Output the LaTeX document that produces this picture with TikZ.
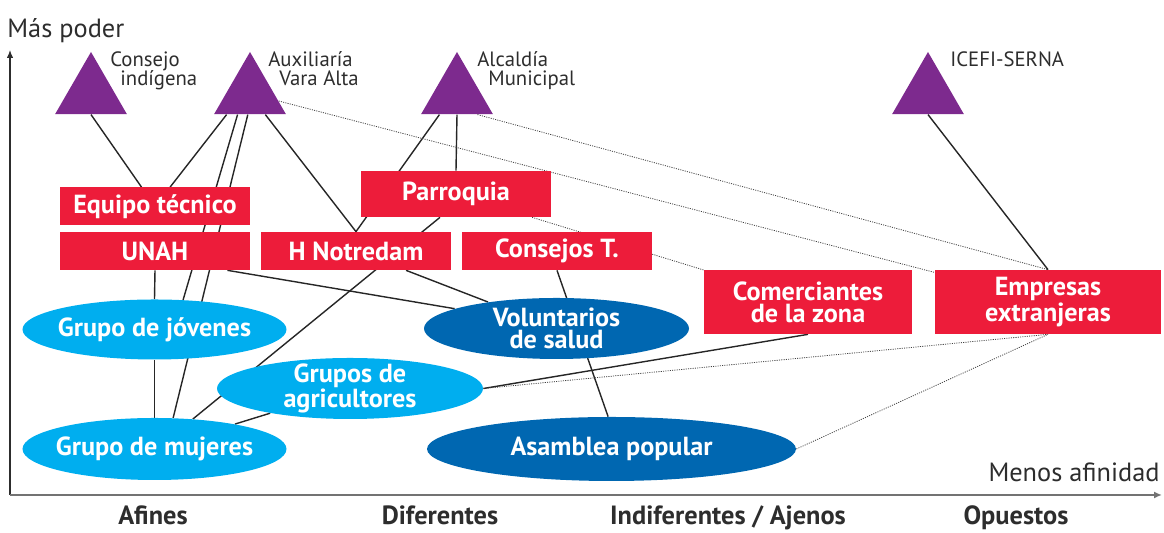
\documentclass[tikz,border=0pt]{standalone}
\usepackage{fontspec}
\setmainfont{PT Sans}
\usetikzlibrary{shapes.geometric, arrows.meta, positioning, calc, backgrounds}
\definecolor{actorpurple}{RGB}{125,42,142}
\definecolor{instred}{RGB}{237,28,58}
\definecolor{grplight}{RGB}{0,174,239}
\definecolor{grpdark}{RGB}{0,103,177}
\definecolor{ink}{RGB}{45,45,45}

\begin{document}
\begin{tikzpicture}[
    actor/.style={regular polygon, regular polygon sides=3, fill=actorpurple, minimum size=1.66cm, inner sep=0pt},
    actorlbl/.style={anchor=north west, inner sep=0pt, align=left, text=ink, font=\fontsize{11.8}{11}\selectfont},
    inst/.style={rectangle, fill=instred, text=white, minimum width=3.8cm, minimum height=0.76cm, inner sep=0pt, align=center, font=\fontsize{14.9}{12.4}\selectfont\bfseries},
    grp/.style={ellipse, fill=grplight, text=white, minimum width=5.28cm, minimum height=1.2cm, inner xsep=-0.6cm, inner ysep=-0.25cm, align=center, font=\fontsize{14.9}{12.4}\selectfont\bfseries},
    link/.style={draw=black!85, line width=0.8pt},
    weak/.style={draw=black!75, line width=0.45pt, dash pattern=on 0.6pt off 0.7pt},
    axislbl/.style={text=ink, inner sep=0pt, font=\fontsize{15}{17}\selectfont},
    catlbl/.style={text=ink, inner sep=0pt, font=\fontsize{15}{17}\selectfont\bfseries}
]
    \useasboundingbox (0,0) rectangle (23.28,10.66);

    % Axes
    \draw[ink, line width=0.7pt, -{Latex[length=1.6mm,width=1.3mm]}] (0.2,0.76) -- (0.2,9.66);
    \draw[black!55, line width=1pt, -{Latex[length=1.6mm,width=1.4mm]}] (0.2,0.76) -- (23.24,0.76);
    \node[axislbl, anchor=base west] (poder) at (0.14,9.9) {Más poder};
    \node[axislbl, anchor=base east] (afinidad) at (23.2,1.02) {Menos afinidad};

    % Categories
    \node[catlbl, anchor=base] (afines) at (3.06,0.16) {Afines};
    \node[catlbl, anchor=base] (diferentes) at (8.8,0.16) {Diferentes};
    \node[catlbl, anchor=base] (ajenos) at (14.56,0.16) {Indiferentes / Ajenos};
    \node[catlbl, anchor=base] (opuestos) at (20.32,0.16) {Opuestos};

    % Actors with most power
    \node[actor] (consejo) at (1.82,8.79) {};
    \node[actor] (aux) at (5.0,8.79) {};
    \node[actor] (alcaldia) at (9.14,8.79) {};
    \node[actor] (icefi) at (18.56,8.79) {};
    \node[actorlbl] (consejo-lbl) at ([xshift=0.38cm]consejo.corner 1) {Consejo\\\hspace*{0.2cm}indígena};
    \node[actorlbl] (aux-lbl) at ([xshift=0.36cm]aux.corner 1) {Auxiliaría\\\hspace*{0.22cm}Vara Alta};
    \node[actorlbl] (alcaldia-lbl) at ([xshift=0.4cm]alcaldia.corner 1) {Alcaldía\\\hspace*{0.22cm}Municipal};
    \node[actorlbl] (icefi-lbl) at ([xshift=0.44cm]icefi.corner 1) {ICEFI-SERNA};

    % Institutions
    \node[inst] (equipo) at (3.10,6.53) {Equipo técnico};
    \node[inst] (unah) at (3.10,5.64) {UNAH};
    \node[inst] (hnotre) at (7.12,5.64) {H Notredam};
    \node[inst, minimum height=0.92cm] (parroquia) at (9.12,6.78) {Parroquia};
    \node[inst] (consejos) at (11.14,5.64) {Consejos T.};
    \node[inst, minimum width=4.16cm, minimum height=1.28cm] (comer) at (16.16,4.62) {Comerciantes\\de la zona};
    \node[inst, minimum width=4.52cm, minimum height=1.28cm] (empresas) at (20.96,4.62) {Empresas\\extranjeras};

    % Groups
    \node[grp] (jovenes) at (3.09,4.07) {Grupo de jóvenes};
    \node[grp, minimum height=1.24cm] (mujeres) at (3.09,1.68) {Grupo de mujeres};
    \node[grp, minimum width=5.32cm, minimum height=1.22cm] (agri) at (7.0,2.89) {Grupos de\\agricultores};
    \node[grp, fill=grpdark, minimum width=5.3cm, minimum height=1.22cm] (vol) at (11.13,4.09) {Voluntarios\\de salud};
    \node[grp, fill=grpdark, minimum width=7.38cm, minimum height=1.28cm] (asamblea) at (12.23,1.68) {Asamblea popular};

    % Relations
    \begin{scope}[on background layer]
        \draw[link] (consejo.side 2) -- (equipo);
        \draw[link] ($(aux.corner 2)!0.18!(aux.corner 3)$) -- (equipo);
        \draw[link] ($(aux.corner 2)!0.33!(aux.corner 3)$) -- (jovenes.46);
        \draw[link] ($(aux.corner 2)!0.47!(aux.corner 3)$) -- (mujeres.59);
        \draw[link] ($(aux.corner 2)!0.71!(aux.corner 3)$) -- (hnotre.north);
        \draw[link] ($(alcaldia.corner 2)!0.26!(alcaldia.corner 3)$) -- (hnotre.north);
        \draw[link] (alcaldia.side 2) -- (parroquia.north);
        \draw[link] (icefi.side 2) -- (empresas.north);
        \draw[link] (unah.south) -- (jovenes.north);
        \draw[link] (jovenes.south) -- (mujeres.north);
        \draw[link] ($(unah.south)!0.76!(unah.south east)$) -- (vol.169);
        \draw[link] (hnotre) -- (vol);
        \draw[link] (consejos.south) -- (asamblea.96);
        \draw[link] ($(parroquia.south)+(-0.32,0)$) -- (mujeres.38);
        \draw[link] (agri) -- (mujeres);
        \draw[link] (agri.east) -- (comer.south);
        % weak ties
        \draw[weak] (aux) -- (empresas);
        \draw[weak] ($(alcaldia.corner 2)!0.78!(alcaldia.corner 3)$) -- (empresas.north);
        \draw[weak] (parroquia) -- (comer);
        \draw[weak] (agri.east) -- (empresas.south);
        \draw[weak] (asamblea.east) -- (empresas.south);
    \end{scope}
\end{tikzpicture}
\end{document}
